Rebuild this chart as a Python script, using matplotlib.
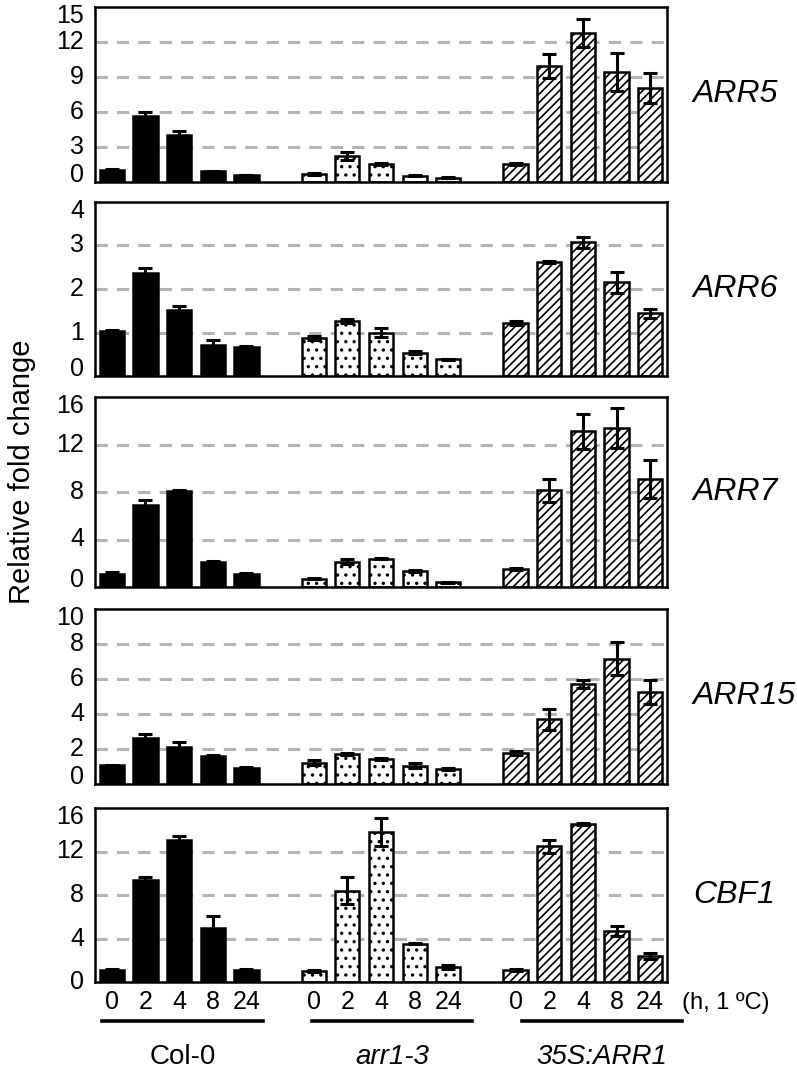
import numpy as np
import matplotlib
matplotlib.use("Agg")
import matplotlib.pyplot as plt
import matplotlib.transforms as mtrans

plt.rcParams['font.family'] = ['Liberation Sans', 'DejaVu Sans']
plt.rcParams['hatch.color'] = 'black'
plt.rcParams['hatch.linewidth'] = 1.2

# ===========================================
# data

genes = ["ARR5", "ARR6", "ARR7", "ARR15", "CBF1"]
ymax = [15, 4, 16, 10, 16]
ystep = [3, 1, 4, 2, 4]

hours = ["0", "2", "4", "8", "24"]
genotypes = ["Col-0", "arr1-3", "35S:ARR1"]

col0_mean = [[1.06, 5.66, 4.06, 0.91, 0.60],
             [1.03, 2.37, 1.52, 0.72, 0.67],
             [1.13, 6.93, 8.10, 2.10, 1.13],
             [1.07, 2.63, 2.14, 1.62, 0.94],
             [1.10, 9.42, 13.10, 5.00, 1.13]]
col0_err = [[0.08, 0.34, 0.28, 0.05, 0.04],
            [0.02, 0.11, 0.08, 0.11, 0.02],
            [0.10, 0.42, 0.10, 0.10, 0.06],
            [0.04, 0.23, 0.25, 0.06, 0.05],
            [0.10, 0.20, 0.37, 1.10, 0.08]]

arr_mean = [[0.71, 2.23, 1.54, 0.54, 0.37],
            [0.87, 1.26, 1.00, 0.54, 0.38],
            [0.70, 2.14, 2.40, 1.35, 0.39],
            [1.22, 1.72, 1.43, 1.05, 0.86],
            [0.98, 8.41, 13.76, 3.52, 1.38]]
arr_err = [[0.10, 0.34, 0.05, 0.05, 0.04],
           [0.04, 0.04, 0.10, 0.04, 0.02],
           [0.06, 0.20, 0.08, 0.12, 0.04],
           [0.15, 0.05, 0.05, 0.13, 0.05],
           [0.10, 1.22, 1.30, 0.05, 0.20]]

oe_mean = [[1.57, 9.91, 12.77, 9.43, 8.06],
           [1.22, 2.62, 3.07, 2.15, 1.44],
           [1.54, 8.15, 13.10, 13.40, 9.07],
           [1.76, 3.70, 5.71, 7.16, 5.25],
           [1.07, 12.50, 14.50, 4.70, 2.40]]
oe_err = [[0.08, 1.03, 1.17, 1.66, 1.31],
          [0.05, 0.02, 0.13, 0.25, 0.10],
          [0.08, 0.98, 1.49, 1.69, 1.60],
          [0.13, 0.61, 0.25, 0.95, 0.70],
          [0.10, 0.60, 0.10, 0.45, 0.30]]

# ===========================================

W, H = 797, 1068
fig = plt.figure(figsize=(W / 100, H / 100), dpi=100)

# panel boxes in pixels (top, bottom)
boxes = [(7, 182), (202, 376), (397, 587), (609, 784), (808, 982)]
left, right = 95, 667

hatches = [None, '..', '////']
faces = ['black', 'white', 'white']
means = [col0_mean, arr_mean, oe_mean]
errs = [col0_err, arr_err, oe_err]

axes = []
for g, (top, bot) in enumerate(boxes):
    ax = fig.add_axes([left / W, 1 - bot / H, (right - left) / W, (bot - top) / H])
    axes.append(ax)
    for k in range(3):
        x = np.arange(5) + 6 * k
        ax.bar(x, means[k][g], width=0.72, color=faces[k], edgecolor='black',
               linewidth=1.8, hatch=hatches[k], zorder=2)
        ax.errorbar(x, means[k][g], yerr=errs[k][g], fmt='none', ecolor='black',
                    elinewidth=2.2, capsize=5, capthick=2.2, zorder=3)

    ax.set_xlim(-0.5, 16.5)
    ax.set_ylim(0, ymax[g])
    ticks = np.arange(0, ymax[g] + 0.01, ystep[g])
    ax.set_yticks(ticks)
    ax.set_yticklabels([])
    ax.tick_params(axis='y', length=0)

    # y labels drawn by hand so the end ones can sit inside the panel
    ytr = mtrans.blended_transform_factory(ax.transAxes, ax.transData)
    for i, t in enumerate(ticks):
        dy = 0
        if i == len(ticks) - 1:
            dy = -6.5
        elif i == 0 and g < 4:
            dy = 5
        ax.text(0, t, "%d" % t, fontsize=18, ha='right', va='center',
                transform=mtrans.offset_copy(ytr, fig=fig, x=-8, y=dy, units='points'))

    for t in ticks[1:-1]:
        ax.axhline(t, color='#b4b4b4', lw=2.2, ls=(0, (4, 3)), zorder=1)
    for sp in ax.spines.values():
        sp.set_linewidth(1.8)
    ax.text(1.045, 0.5, genes[g], transform=ax.transAxes, fontsize=23,
            style='italic', va='center', ha='left')
    if g < 4:
        ax.set_xticks([])

# bottom panel x labels
ax = axes[-1]
xt = np.concatenate([np.arange(5) + 6 * k for k in range(3)])
ax.set_xticks(xt)
ax.set_xticklabels(hours * 3, fontsize=18)
ax.tick_params(axis='x', length=0, pad=6)
trans = mtrans.blended_transform_factory(ax.transData, ax.transAxes)
ax.text(16.95, -0.12, "(h, 1 ºC)", transform=trans,
        fontsize=17, va='center', ha='left')

line_ends = [(-0.28, 4.48), (5.96, 10.7), (12.19, 16.95)]
for k in range(3):
    x0, x1 = line_ends[k]
    ax.plot([x0, x1], [-0.224, -0.224], color='black', lw=2.6,
            transform=trans, clip_on=False)
    ax.text((x0 + x1) / 2, -0.43, genotypes[k], transform=trans, fontsize=20,
            ha='center', va='center', style='normal' if k == 0 else 'italic')

fig.text(22 / W, 1 - 472 / H, "Relative fold change", rotation=90,
         fontsize=21, va='center', ha='center')

plt.savefig("out.png", dpi=100)
